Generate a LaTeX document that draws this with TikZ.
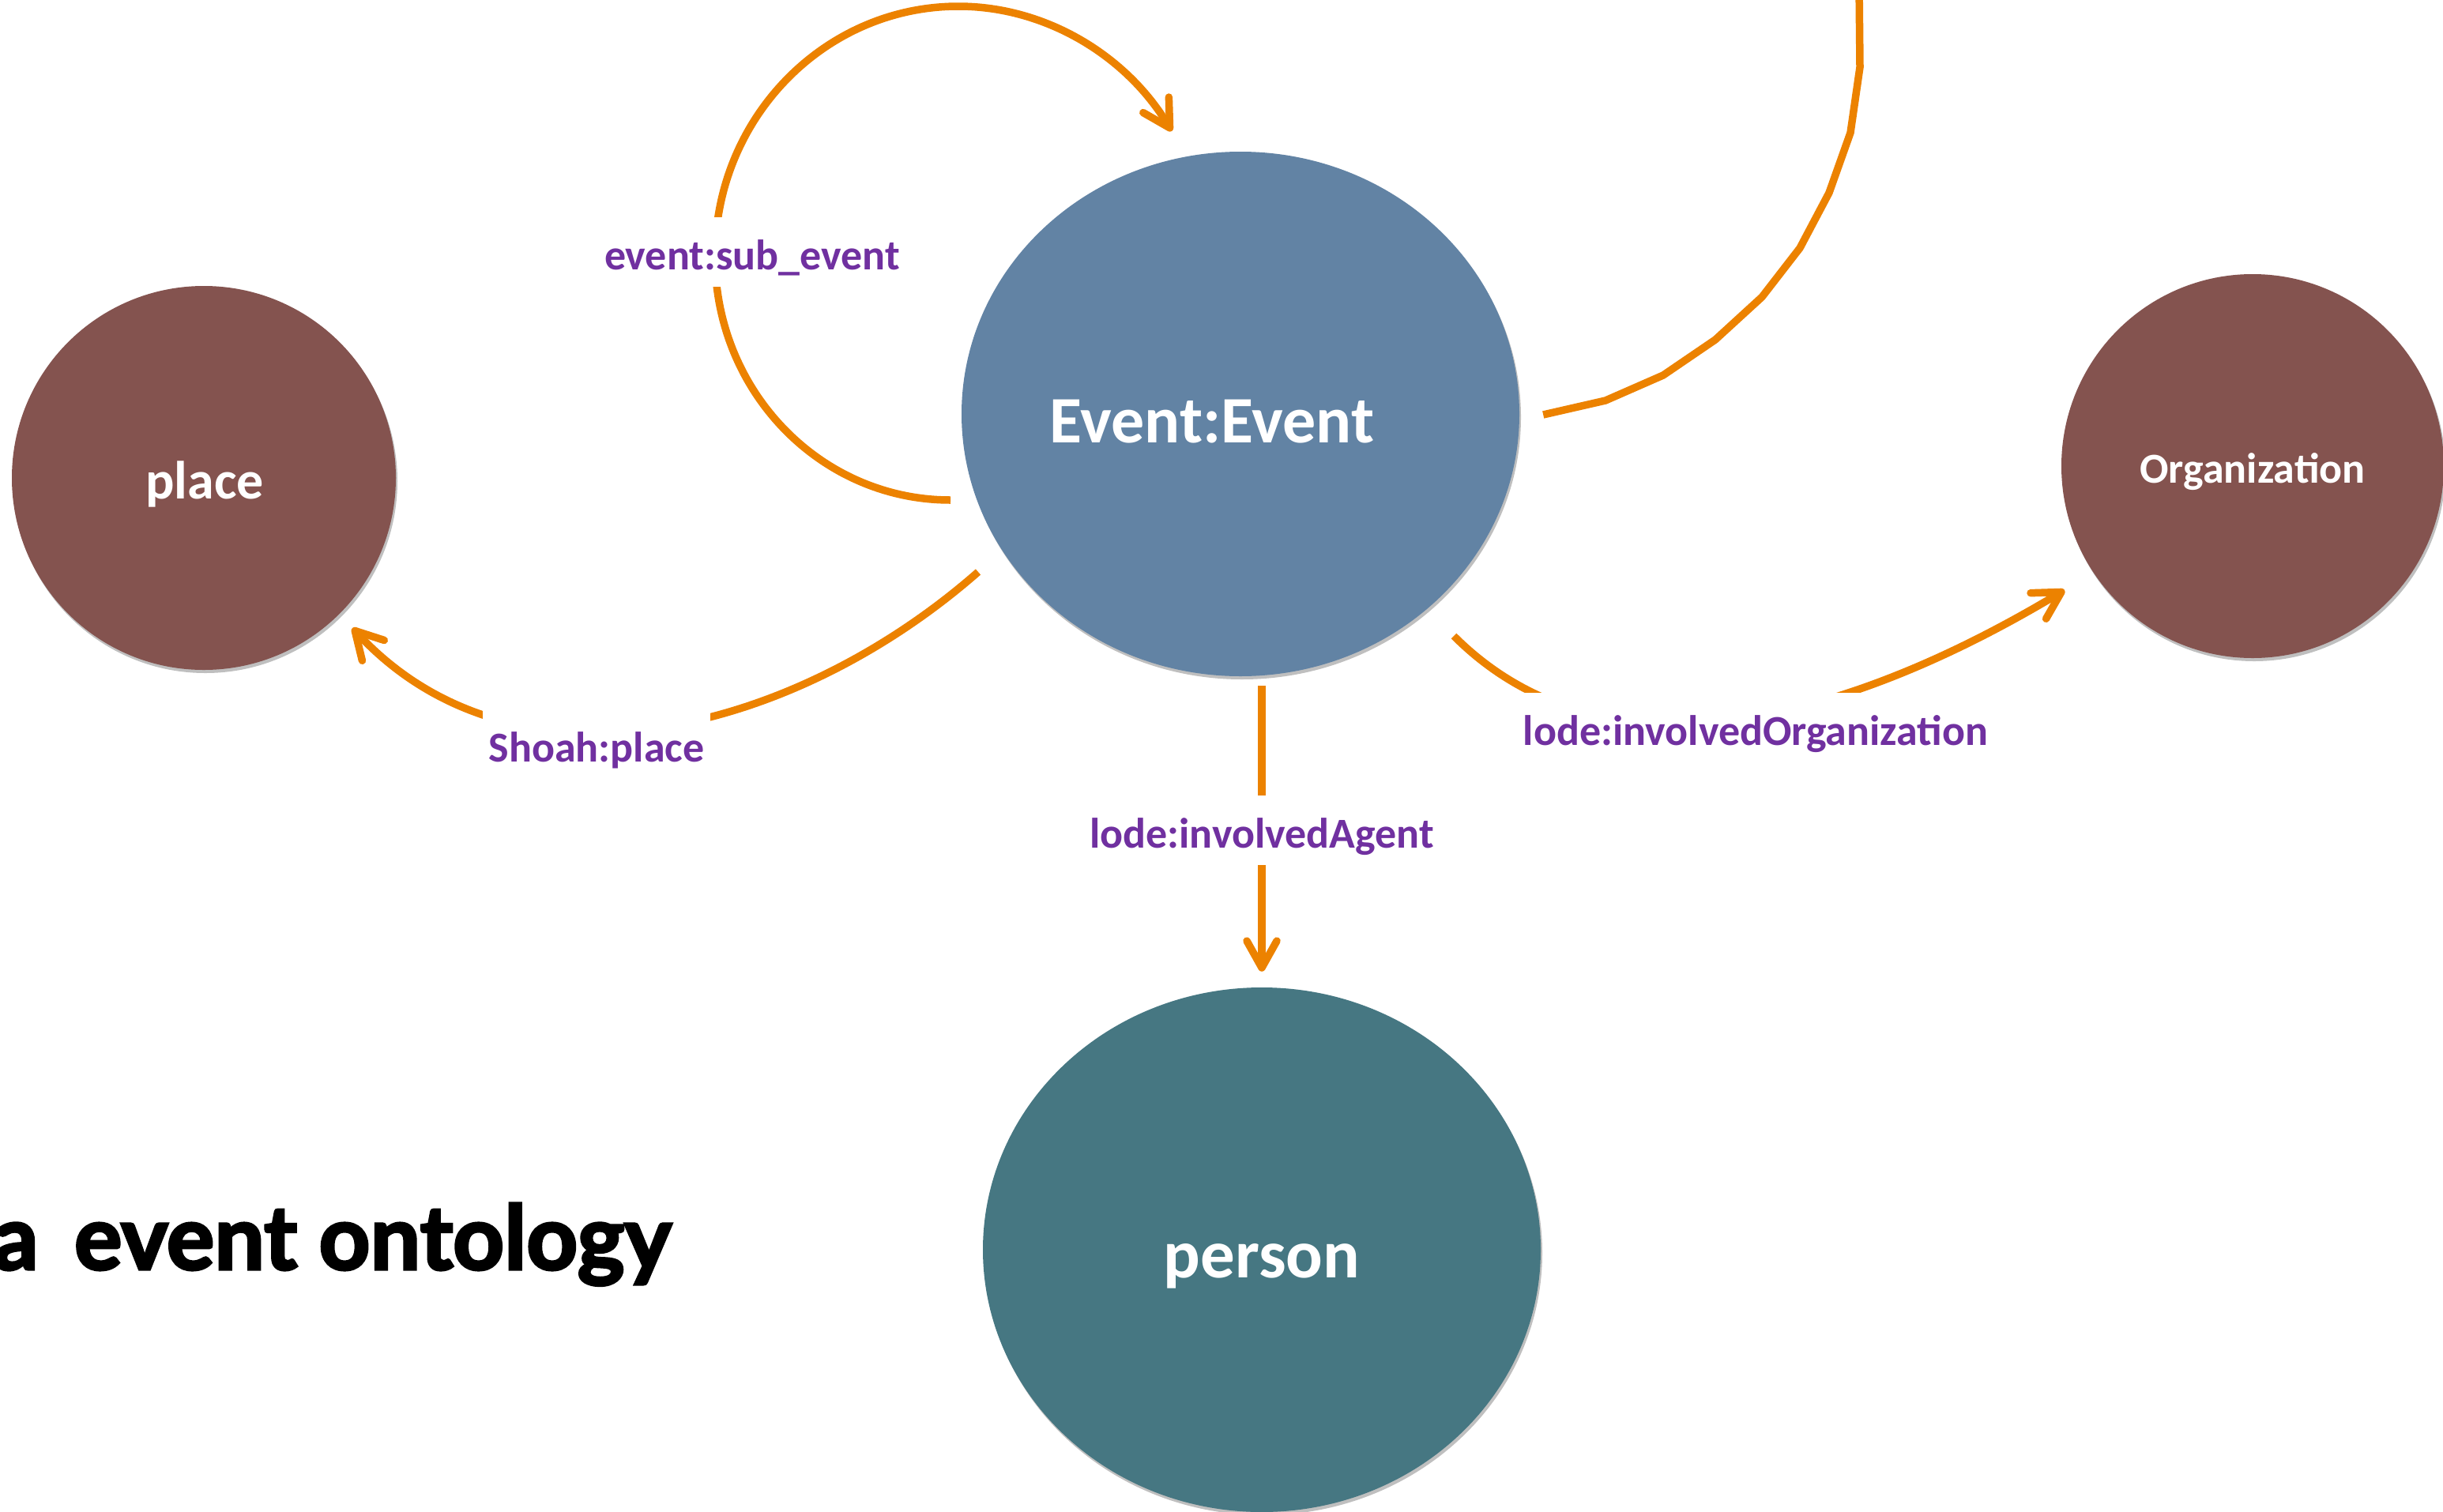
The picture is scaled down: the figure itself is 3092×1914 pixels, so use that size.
\documentclass[tikz,border=0pt]{standalone}
\usepackage{fontspec}
\setmainfont{Carlito}
\newfontfamily\titlefont{Lato}
\usetikzlibrary{arrows.meta,calc,shapes.geometric,shadows}
\definecolor{evblue}{HTML}{6283A4}
\definecolor{brownc}{HTML}{84534F}
\definecolor{tealc}{HTML}{467782}
\definecolor{orangec}{HTML}{EC8200}
\definecolor{purplec}{HTML}{7030A0}
\tikzset{
  blob/.style={ellipse, inner sep=0pt, draw=none,
    drop shadow={shadow xshift=2pt, shadow yshift=-4pt, opacity=0.25, fill=black}},
  conn/.style={draw=orangec, line width=9.5pt,
    -{Straight Barb[length=34pt,width=38pt,round]}},
  plainconn/.style={draw=orangec, line width=9.5pt},
  lbl/.style={fill=white, text=purplec, anchor=base,
    font=\fontsize{54}{60}\selectfont\bfseries,
    text height=60pt, text depth=16pt, inner xsep=8pt, inner ysep=6pt},
  ntext/.style={text=white, anchor=base, inner sep=0pt},
}
\begin{document}
\begin{tikzpicture}[x=1pt,y=-1pt]
\useasboundingbox (0,0) rectangle (3092,1914);
\clip (0,0) rectangle (3092,1914);

% nodes
\node[blob, fill=brownc, minimum width=486pt, minimum height=486pt] (place) at (258,605) {};
\node[blob, fill=evblue, minimum width=706pt, minimum height=664pt] (event) at (1570,524) {};
\node[blob, fill=brownc, minimum width=484pt, minimum height=486pt] (org) at (2851,590) {};
\node[blob, fill=tealc, minimum width=706pt, minimum height=664pt] (person) at (1597,1582) {};

\node[ntext, font=\fontsize{84}{96}\selectfont\bfseries] (eventtxt) at (1534,560) {Event:Event};
\node[ntext, font=\fontsize{68}{80}\selectfont\bfseries] (placetxt) at (259,631) {place};
\node[ntext, font=\fontsize{54}{64}\selectfont\bfseries] (orgtxt) at (2851,611) {Organization};
\node[ntext, font=\fontsize{87}{98}\selectfont\bfseries] (persontxt) at (1597,1617) {person};

% connectors
\coordinate (topend) at (2353,-20);
\draw[conn] ($(event.center)+(-367,109)$) .. controls (1038,633) and (905,495) .. (905,325)
  .. controls (905,150) and (1043,8) .. (1213,8)
  .. controls (1324,8) and (1426,71) .. ($(event.center)+(-87,-358)$);
\draw[conn] ($(event.south)+(27,12)$) -- ($(person.north)+(0,-20)$);
\draw[conn] ($(event.center)+(-332,200)$) .. controls (1007,927) and (655,1020) .. ($(place.center)+(188,190)$);
\draw[conn] ($(event.center)+(270,281)$) .. controls (2044,1009) and (2365,896) .. ($(org.center)+(-238,157)$);
\draw[plainconn] ($(event.east)+(30,1)$) -- (2032,507) -- (2105,475) -- (2171,430) -- (2230,376)
  -- (2278,314) -- (2315,244) -- (2342,168) -- (2354,85) -- (topend);

% labels
\node[lbl] (subl) at (952,341) {event:sub\_event};
\node[lbl] (shoahl) at (755,964) {Shoah:place};
\node[lbl] (agentl) at (1597,1073) {lode:involvedAgent};
\node[lbl] (orgl) at (2222,943) {lode:involvedOrganization};

% title
\node[anchor=base east, inner sep=0pt,
  font={\titlefont\fontsize{113}{130}\selectfont\bfseries\addfontfeatures{FakeBold=3}}]
  (title) at (850,1607) {a\hspace{18pt} event ontology};
\end{tikzpicture}
\end{document}
